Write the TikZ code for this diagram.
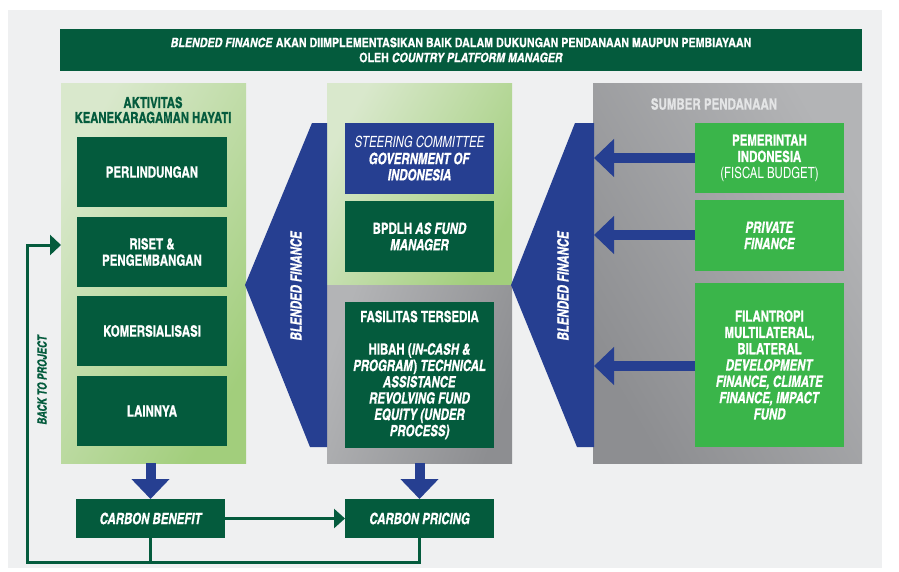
\documentclass[tikz,border=0pt]{standalone}
\usepackage{fontspec}
\setmainfont{texgyreheroscn}[Extension=.otf, UprightFont=*-regular, BoldFont=*-bold, ItalicFont=*-italic, BoldItalicFont=*-bolditalic, BoldFeatures={FakeBold=0.6}, BoldItalicFeatures={FakeBold=0.6}]
\newfontfamily\cnd{texgyreheroscn}[Extension=.otf, UprightFont=*-regular, BoldFont=*-bold, ItalicFont=*-italic, BoldItalicFont=*-bolditalic, FakeStretch=0.9, BoldFeatures={FakeBold=0.7}, BoldItalicFeatures={FakeBold=0.7}]
\usetikzlibrary{arrows.meta,calc}
\definecolor{dkgreen}{HTML}{045B3D}
\definecolor{bblue}{HTML}{263F91}
\definecolor{brgreen}{HTML}{3AB54A}
\definecolor{lgA}{HTML}{D9E8CC}
\definecolor{lgB}{HTML}{A2CE7C}
\definecolor{gA}{HTML}{B3B4B6}
\definecolor{gB}{HTML}{8D8E91}
\definecolor{bgc}{HTML}{EFF0F1}
\definecolor{ttl}{HTML}{E4E5E6}
\tikzset{
  panel/.style={inner sep=0pt, outer sep=0pt, anchor=north west},
  box/.style={inner sep=0pt, outer sep=0pt, anchor=north west, fill=dkgreen, text=white, align=center,
    font=\cnd\bfseries\fontsize{15.5}{16.3}\selectfont},
  bluebox/.style={box, fill=bblue},
  greenbox/.style={box, fill=brgreen},
  fatarrow/.style={draw=bblue, line width=10pt, -{Triangle[length=20pt,width=37pt]}},
  loopline/.style={draw=dkgreen, line width=3pt},
  looparrow/.style={loopline, -{Triangle[length=11pt,width=20pt]}},
  rottext/.style={rotate=90, text=white, font=\cnd\bfseries\itshape\fontsize{15.5}{16}\selectfont, inner sep=0pt}
}
\begin{document}
\begin{tikzpicture}[x=1pt,y=-1pt]
\useasboundingbox (0,0) rectangle (899,571);
\fill[white] (0,0) rectangle (899,571);
\fill[bgc] (8,10) rectangle (882,568);
% banner
\node[box, minimum width=802pt, minimum height=42pt, font=\bfseries\fontsize{13}{15}\selectfont] (banner) at (60,29)
 {\textit{BLENDED FINANCE} AKAN DIIMPLEMENTASIKAN BAIK DALAM DUKUNGAN PENDANAAN MAUPUN PEMBIAYAAN\\OLEH \textit{COUNTRY PLATFORM MANAGER}};
% panels
\node[panel, minimum width=185pt, minimum height=380pt, left color=lgA, right color=lgB, shading angle=60] (left) at (61,83) {};
\node[panel, minimum width=185pt, minimum height=202pt, left color=lgA, right color=lgB, shading angle=60] (midtop) at (327,83) {};
\node[panel, minimum width=185pt, minimum height=178pt, left color=gA, right color=gB, shading angle=70] (midbot) at (327,285) {};
\node[panel, minimum width=269pt, minimum height=380pt, left color=gB, right color=gA, shading angle=120] (right) at (593,83) {};
% panel titles
\node[text=dkgreen, align=center, font=\cnd\bfseries\fontsize{15.3}{15}\selectfont] (lefttitle) at (153,110) {AKTIVITAS\\KEANEKARAGAMAN HAYATI};
\node[text=ttl, font=\cnd\bfseries\fontsize{15.6}{15}\selectfont] (righttitle) at (714,104) {SUMBER PENDANAAN};
% left boxes
\node[box, minimum width=150pt, minimum height=70pt] (b1) at (77,137) {PERLINDUNGAN};
\node[box, minimum width=150pt, minimum height=70pt] (b2) at (77,217) {RISET \&\\PENGEMBANGAN};
\node[box, minimum width=150pt, minimum height=70pt] (b3) at (77,296) {KOMERSIALISASI};
\node[box, minimum width=150pt, minimum height=70pt] (b4) at (77,376) {LAINNYA};
% middle boxes
\node[bluebox, minimum width=149pt, minimum height=71pt] (sc) at (345,123)
 {{\mdseries\itshape STEERING COMMITTEE}\\\textit{GOVERNMENT OF}\\\textit{INDONESIA}};
\node[box, minimum width=149pt, minimum height=71pt] (bp) at (345,201) {BPDLH \textit{AS FUND}\\\textit{MANAGER}};
\node[box, minimum width=149pt, minimum height=146pt] (fa) at (345,302)
 {FASILITAS TERSEDIA\\[16.3pt]HIBAH (\textit{IN-CASH \&}\\\textit{PROGRAM}) \textit{TECHNICAL}\\\textit{ASSISTANCE}\\\textit{REVOLVING FUND}\\\textit{EQUITY (UNDER}\\\textit{PROCESS)}};
% right boxes
\node[greenbox, minimum width=149pt, minimum height=70pt] (g1) at (695,123)
 {PEMERINTAH\\INDONESIA\\{\mdseries (FISCAL BUDGET)}};
\node[greenbox, minimum width=149pt, minimum height=71pt] (g2) at (695,200) {\textit{PRIVATE}\\\textit{FINANCE}};
\node[greenbox, minimum width=149pt, minimum height=164pt] (g3) at (695,283)
 {FILANTROPI\\MULTILATERAL,\\BILATERAL\\\textit{DEVELOPMENT}\\\textit{FINANCE, CLIMATE}\\\textit{FINANCE, IMPACT}\\\textit{FUND}};
% blended finance shapes
\fill[bblue] (312,123) -- (327,123) -- (327,447) -- (310,447) -- (245,285) -- cycle;
\fill[bblue] (575,123) -- (594,123) -- (594,447) -- (577,447) -- (511,285) -- cycle;
\node[rottext] (bf1) at (296,286) {BLENDED FINANCE};
\node[rottext] (bf2) at (563,286) {BLENDED FINANCE};
% arrows from sources
\coordinate (t1) at (594,158);
\coordinate (t2) at (594,235);
\coordinate (t3) at (594,366);
\draw[fatarrow] (g1.west |- t1) -- (t1);
\draw[fatarrow] (g2.west |- t2) -- (t2);
\draw[fatarrow] (g3.west |- t3) -- (t3);
% carbon boxes
\node[box, minimum width=149pt, minimum height=39pt, font=\cnd\bfseries\itshape\fontsize{15.5}{16}\selectfont] (cb) at (76,499) {CARBON BENEFIT};
\node[box, minimum width=149pt, minimum height=39pt, font=\cnd\bfseries\itshape\fontsize{15.5}{16}\selectfont] (cp) at (345,499) {CARBON PRICING};
% down arrows
\draw[fatarrow] (left.south -| cb.north) coordinate (d1s) -- (cb.north);
\draw[fatarrow] (midbot.south -| cp.north) coordinate (d2s) -- (cp.north);
% carbon benefit to pricing
\draw[draw=dkgreen, line width=3pt, -{Triangle[length=11pt,width=19pt]}] (cb.east) -- (cp.west);
% loop back
\coordinate (lb) at (27,562);
\coordinate (ret) at (27,245);
\draw[loopline] (cb.south) -- (cb.south |- lb);
\draw[looparrow] (cp.south) -- (cp.south |- lb) -- (lb) -- (ret) -- (left.west |- ret);
\node[rottext, text=dkgreen, font=\cnd\bfseries\itshape\fontsize{12.8}{14}\selectfont] (back) at (42,380) {BACK TO PROJECT};
\end{tikzpicture}
\end{document}
